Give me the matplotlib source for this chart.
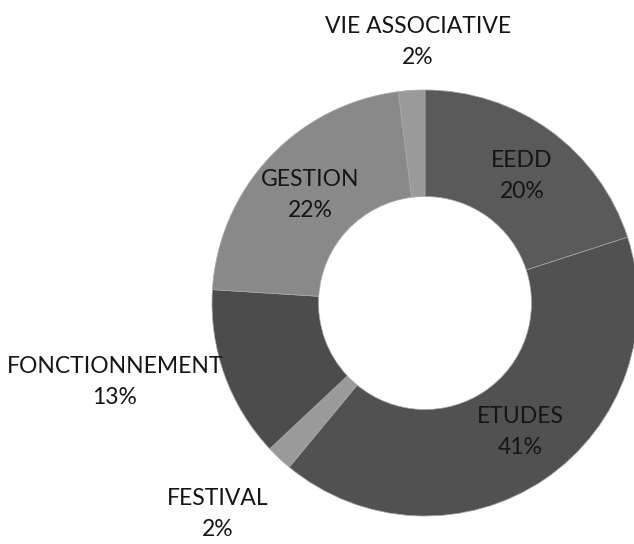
import matplotlib
matplotlib.use("Agg")
import matplotlib.pyplot as plt

categories = ["EEDD", "ETUDES", "FESTIVAL", "FONCTIONNEMENT", "GESTION", "VIE ASSOCIATIVE"]
values = [20, 41, 2, 13, 22, 2]
colors = ["#5a5a5a", "#515151", "#9a9a9a", "#4c4c4c", "#898989", "#9a9a9a"]

W, H = 634, 544
fig = plt.figure(figsize=(W / 100, H / 100), dpi=100)
ax = fig.add_axes([0, 0, 1, 1])

cx, cy = 425, H - 303
R = 213
ax.pie(values, colors=colors, startangle=90, counterclock=False,
       center=(cx, cy), radius=R,
       wedgeprops=dict(width=R * 0.5, edgecolor="#a8a8a8", linewidth=0.5))
ax.set_xlim(0, W)
ax.set_ylim(0, H)
ax.set_aspect("equal")
ax.axis("off")

# label positions (pixel coords, top-left origin)
label_pos = [(522, 176), (520, 432), (218, 514), (115, 382), (310, 195), (418, 42)]
for cat, val, (x, y) in zip(categories, values, label_pos):
    ax.text(x, H - y, f"{cat}\n{val}%", ha="center", va="center",
            fontsize=16.5, family="Lato", color="#151515", linespacing=1.55)

fig.savefig("out.png", dpi=100, facecolor="white")
